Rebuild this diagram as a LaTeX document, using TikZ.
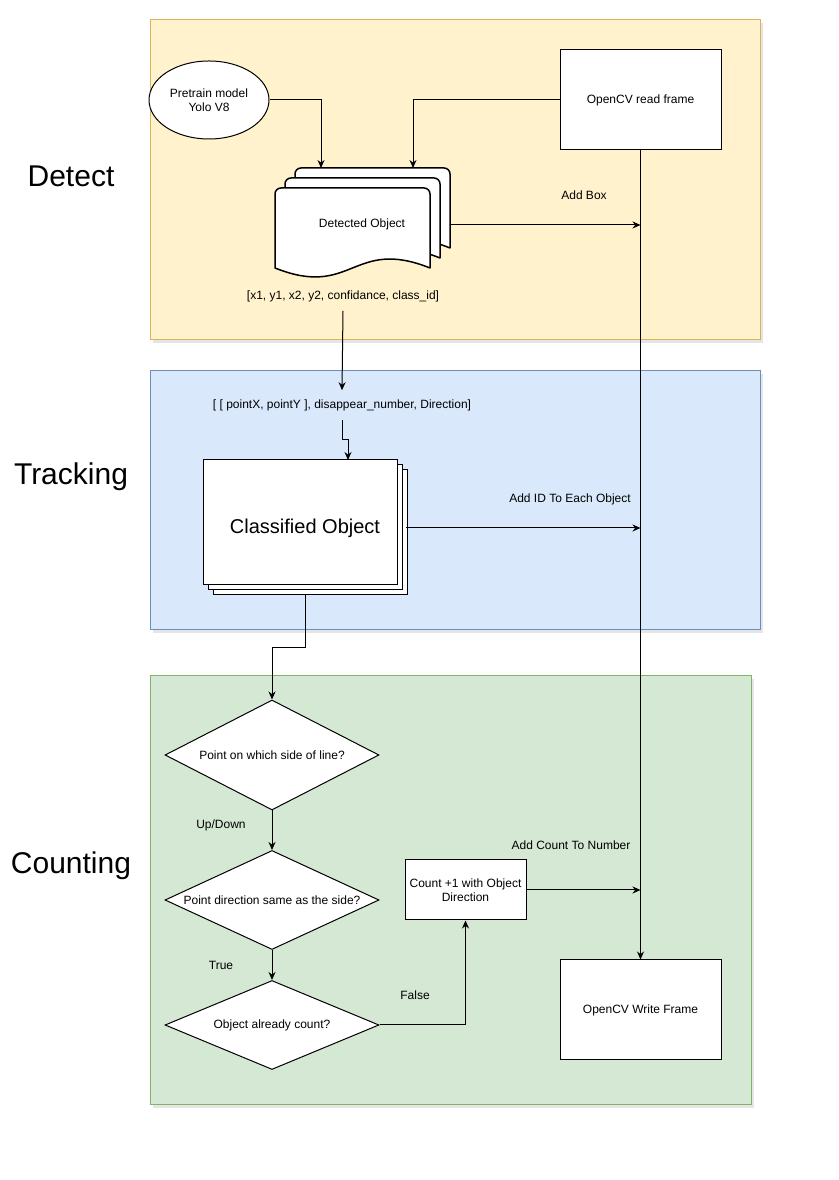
\documentclass[tikz,border=0pt]{standalone}
\usepackage{fontspec}
\setmainfont{Liberation Sans}
\usetikzlibrary{shapes.geometric,arrows.meta,shadows}
\begin{document}
\begin{tikzpicture}[x=1pt,y=1pt,
  flow/.style={draw=black,line width=1pt,-{Stealth[length=8pt,width=7pt]}},
  panel/.style={line width=1pt,drop shadow={shadow xshift=3pt,shadow yshift=-3pt,opacity=0.2}},
  box/.style={draw=black,fill=white,line width=1pt,inner sep=2pt,font=\fontsize{12}{14.5}\selectfont},
  lbl/.style={inner sep=0pt,font=\fontsize{12}{14.5}\selectfont},
  info/.style={inner xsep=0pt,inner ysep=9pt,font=\fontsize{12}{14.5}\selectfont},
  stage/.style={inner sep=0pt,font=\fontsize{30}{36}\selectfont},
  cond/.style={diamond,draw=black,fill=white,line width=1pt,inner sep=0pt,aspect=2.2,minimum width=214pt,font=\fontsize{12}{14.5}\selectfont},
  sheet/.style={draw=black,fill=white,line width=1.5pt,line join=round}]
\definecolor{detFill}{RGB}{255,242,204}
\definecolor{detDraw}{RGB}{214,182,86}
\definecolor{trkFill}{RGB}{218,232,252}
\definecolor{trkDraw}{RGB}{108,142,191}
\definecolor{cntFill}{RGB}{213,232,212}
\definecolor{cntDraw}{RGB}{130,179,102}
\path[use as bounding box,fill=white] (0,0) rectangle (838,1180);

\path[panel,draw=detDraw,fill=detFill] (150,840) rectangle (760,1160);
\path[panel,draw=trkDraw,fill=trkFill] (150,550) rectangle (760,809);
\path[panel,draw=cntDraw,fill=cntFill] (150,75) rectangle (751,504);

\node[stage] (detect) at (71,1004) {Detect};
\node[stage] (tracking) at (71,703) {Tracking};
\node[stage] (counting) at (71,314) {Counting};

\node[ellipse,draw=black,fill=white,line width=1pt,minimum width=120pt,minimum height=78pt,align=center,font=\fontsize{12}{14.5}\selectfont] (model) at (209,1080) {Pretrain model\\Yolo V8};
\node[box,minimum width=161pt,minimum height=100pt] (readframe) at (640.5,1080) {OpenCV read frame};
\node[box,minimum width=161pt,minimum height=100pt] (writeframe) at (640.5,170) {OpenCV Write Frame};

\path[sheet] (295,932) -- (295,1006) arc[start angle=180,end angle=90,radius=6] -- (444,1012) arc[start angle=90,end angle=0,radius=6] -- (450,932) .. controls (372.5,963) and (372.5,901) .. (295,932) -- cycle;
\path[sheet] (285,922) -- (285,996) arc[start angle=180,end angle=90,radius=6] -- (434,1002) arc[start angle=90,end angle=0,radius=6] -- (440,922) .. controls (362.5,953) and (362.5,891) .. (285,922) -- cycle;
\path[sheet] (275,912) -- (275,986) arc[start angle=180,end angle=90,radius=6] -- (424,992) arc[start angle=90,end angle=0,radius=6] -- (430,912) .. controls (352.5,943) and (352.5,881) .. (275,912) -- cycle;
\node[lbl] (det) at (362,956) {Detected Object};
\coordinate (detin1) at (321,1012);
\coordinate (detin2) at (413,1012);
\coordinate (detout) at (450,955);

\node[info] (boxinfo) at (343,884) {[x1, y1, x2, y2, confidance, class\_id]};
\node[info] (trackinfo) at (342,775) {[ [ pointX, pointY ], disappear\_number, Direction]};

\node[box,minimum width=194pt,minimum height=125pt] (cls3) at (310,647.5) {};
\node[box,minimum width=194pt,minimum height=125pt] (cls2) at (305,652.5) {};
\node[box,minimum width=194pt,minimum height=125pt] (cls) at (300,657.5) {};
\node[lbl,font=\fontsize{20}{24}\selectfont] (clsname) at (305,652) {Classified Object};
\coordinate (clsin) at (348,720);
\coordinate (clsout) at (305,585);
\coordinate (clsright) at (406,652);

\node[cond,minimum height=110pt] (dec1) at (272,425) {Point on which side of line?};
\node[cond,minimum height=99pt] (dec2) at (272,280) {Point direction same as the side?};
\node[cond,minimum height=89pt] (dec3) at (272,155) {Object already count?};
\node[box,minimum width=121pt,minimum height=60pt,align=center] (cnt) at (465.5,290) {Count +1 with Object\\Direction};

\node[lbl] (addbox) at (584,985) {Add Box};
\node[lbl] (addid) at (570,681) {Add ID To Each Object};
\node[lbl] (addcnt) at (571,335) {Add Count To Number};
\node[lbl] (updown) at (221,355) {Up/Down};
\node[lbl] (iftrue) at (221,215) {True};
\node[lbl] (iffalse) at (415,185) {False};

\draw[flow] (model.east) -| (detin1);
\draw[flow] (readframe.west) -| (detin2);
\draw[flow] (readframe.south) -- (writeframe.north);
\draw[flow] (detout) -- (detout -| readframe);
\draw[flow] (boxinfo.south) -- (trackinfo.north);
\draw[flow] (trackinfo.south) -- ++(0,-20) -| (clsin);
\draw[flow] (clsright) -- (clsright -| readframe);
\draw[flow] (clsout) -- ++(0,-53) -| (dec1.north);
\draw[flow] (dec1.south) -- (dec2.north);
\draw[flow] (dec2.south) -- (dec3.north);
\draw[flow] (dec3.east) -| (cnt.south);
\draw[flow] (cnt.east) -- (cnt.east -| readframe);
\end{tikzpicture}
\end{document}
